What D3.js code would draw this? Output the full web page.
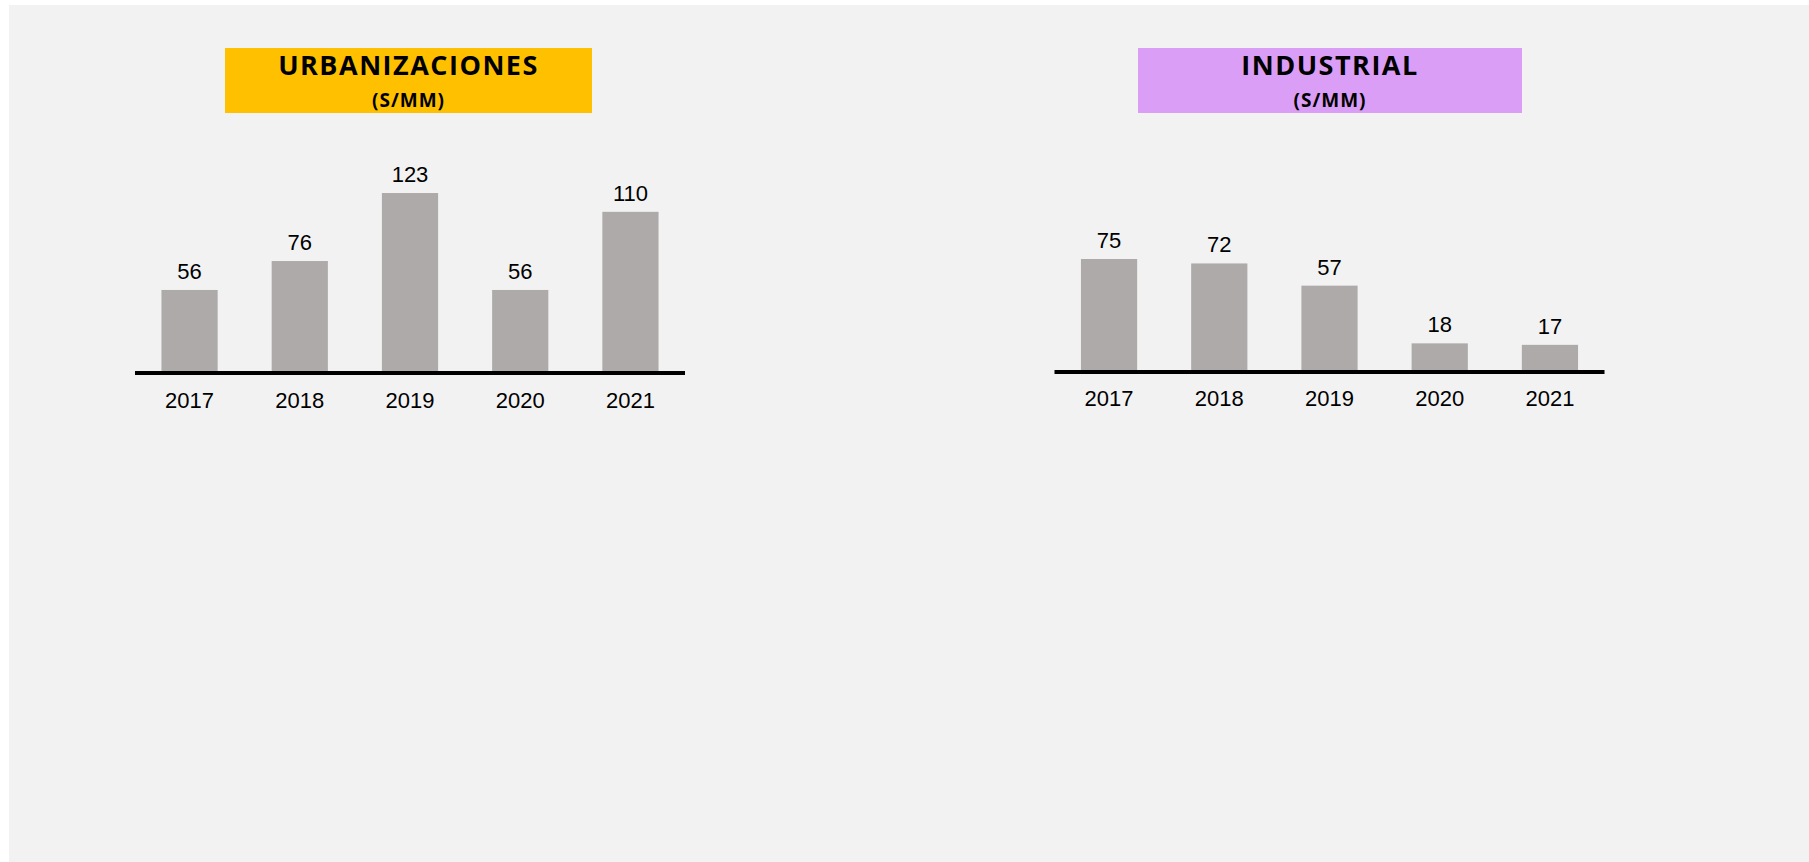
<!DOCTYPE html>
<html lang="es">
<head>
<meta charset="UTF-8">
<title>Urbanizaciones / Industrial</title>
<script src="https://d3js.org/d3.v7.min.js"></script>
<style>
  html, body { margin: 0; padding: 0; background: #ffffff; }
  svg { display: block; }
</style>
</head>
<body>
<svg id="chart" width="1809" height="862"></svg>
<script>
// data
const years = ['2017', '2018', '2019', '2020', '2021'];
const urbanizaciones = [56, 76, 123, 56, 110];
const industrial = [75, 72, 57, 18, 17];
const titles = ['URBANIZACIONES', 'INDUSTRIAL'];
const subtitle = '(S/MM)';

const svg = d3.select('#chart');
const W = 1809, H = 862;

// slide background
svg.append('rect')
    .attr('x', 9).attr('y', 5)
    .attr('width', W - 9).attr('height', H - 5)
    .attr('fill', '#f2f2f2');

const panels = [
    { title: titles[0], values: urbanizaciones, x0: 135, x1: 685, base: 371, pxPerUnit: 1.447,
      box: [225, 592], boxColor: '#ffc000', axisY: 373, yearY: 408 },
    { title: titles[1], values: industrial, x0: 1054.5, x1: 1604.5, base: 370, pxPerUnit: 1.48,
      box: [1138, 1522], boxColor: '#db9ef6', axisY: 372, yearY: 406 }
];

panels.forEach(p => {
    const g = svg.append('g');

    // title box
    g.append('rect')
        .attr('x', p.box[0]).attr('y', 48)
        .attr('width', p.box[1] - p.box[0]).attr('height', 65)
        .attr('fill', p.boxColor);
    const cx = (p.box[0] + p.box[1]) / 2;
    g.append('text')
        .attr('x', cx).attr('y', 75)
        .attr('text-anchor', 'middle')
        .style('font-family', '"Open Sans", sans-serif')
        .style('font-weight', 700)
        .style('font-size', '27px')
        .style('letter-spacing', '1.5px')
        .attr('fill', '#000')
        .text(p.title);
    g.append('text')
        .attr('x', cx).attr('y', 107)
        .attr('text-anchor', 'middle')
        .style('font-family', '"Open Sans", sans-serif')
        .style('font-weight', 700)
        .style('font-size', '19px')
        .style('letter-spacing', '1px')
        .attr('fill', '#000')
        .text(subtitle);

    const x = d3.scaleBand()
        .domain(years)
        .range([p.x0, p.x1])
        .paddingInner(0.49)
        .paddingOuter(0.24);
    const y = d3.scaleLinear()
        .domain([0, 150])
        .range([p.base, p.base - 150 * p.pxPerUnit]);

    const data = years.map((yr, i) => ({ year: yr, value: p.values[i] }));

    g.selectAll('.bar')
        .data(data)
        .enter()
        .append('rect')
        .attr('class', 'bar')
        .attr('x', d => x(d.year))
        .attr('y', d => y(d.value))
        .attr('width', x.bandwidth())
        .attr('height', d => y(0) - y(d.value))
        .attr('fill', '#aeaaaa');

    g.selectAll('.val')
        .data(data)
        .enter()
        .append('text')
        .attr('class', 'val')
        .attr('x', d => x(d.year) + x.bandwidth() / 2)
        .attr('y', d => y(d.value) - 11)
        .attr('text-anchor', 'middle')
        .style('font-family', '"Liberation Sans", Arial, sans-serif')
        .style('font-size', '22px')
        .attr('fill', '#000')
        .text(d => d.value);

    // axis: thick baseline, no ticks
    const axis = d3.axisBottom(x).tickSize(0).tickPadding(0);
    const ag = g.append('g')
        .attr('transform', `translate(0,${p.axisY})`)
        .call(axis);
    ag.select('.domain').remove();
    ag.selectAll('text')
        .attr('y', p.yearY - p.axisY)
        .attr('dy', 0)
        .style('font-family', '"Liberation Sans", Arial, sans-serif')
        .style('font-size', '22px')
        .attr('fill', '#000');
    g.append('line')
        .attr('x1', p.x0).attr('x2', p.x1)
        .attr('y1', p.axisY).attr('y2', p.axisY)
        .attr('stroke', '#000')
        .attr('stroke-width', 4);
});
</script>
</body>
</html>
